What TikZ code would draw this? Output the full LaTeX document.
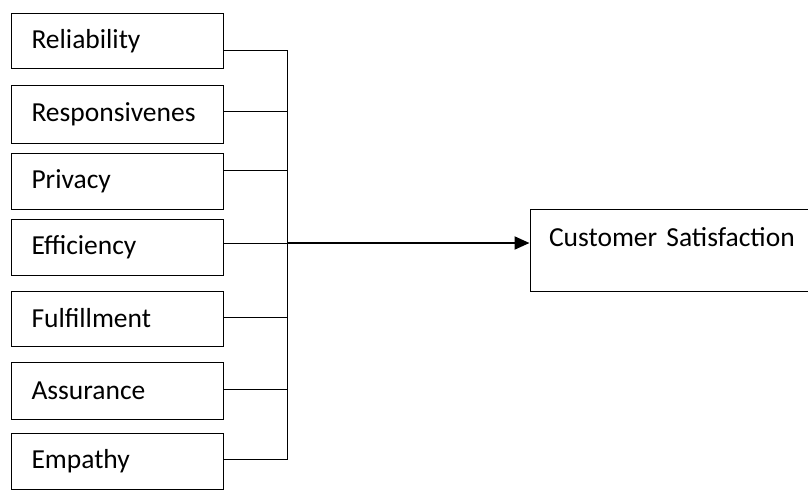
\documentclass[tikz,border=0pt]{standalone}
\usepackage{fontspec}
\setmainfont{Carlito}
\usetikzlibrary{arrows.meta}

\begin{document}
\begin{tikzpicture}[x=1pt,y=-1pt,
  factor/.style={rectangle,draw,line width=1pt,minimum width=210pt,text width=172pt,inner xsep=20pt,align=left,font=\fontsize{27.5}{32}\selectfont},
  link/.style={line width=1pt}]
\useasboundingbox (0,0) rectangle (808,491);

\node[factor,minimum height=55pt] (rel) at (117.5,41) {Reliability};
\node[factor,minimum height=58pt] (resp) at (117.5,114) {Responsivenes};
\node[factor,minimum height=56pt] (priv) at (117.5,181) {Privacy};
\node[factor,minimum height=56pt] (eff) at (117.5,247) {Efficiency};
\node[factor,minimum height=55pt] (ful) at (117.5,318.5) {Fulfillment};
\node[factor,minimum height=57pt] (ass) at (117.5,390.5) {Assurance};
\node[factor,minimum height=56pt] (emp) at (117.5,461) {Empathy};
\node[rectangle,draw,line width=1pt,text width=240pt,inner xsep=19pt,inner ysep=15pt,text height=22pt,text depth=30pt,align=left,font=\fontsize{27.5}{32}\selectfont] (cs) at (669,250) {\mbox{Customer Satisfaction}};

\coordinate (bus) at (287,243);

\draw[link] ([yshift=-9pt]rel.east) -| (bus);
\draw[link] ([yshift=3pt]resp.east) -| (bus);
\draw[link] ([yshift=11pt]priv.east) -| (bus);
\draw[link] ([yshift=4pt]eff.east) -| (bus);
\draw[link] ([yshift=1.5pt]ful.east) -| (bus);
\draw[link] ([yshift=1.5pt]ass.east) -| (bus);
\draw[link] ([yshift=2pt]emp.east) -| (bus);
\draw[line width=2pt,-{Triangle[length=15pt,width=13pt]}] (bus) -- (bus -| cs.west);
\end{tikzpicture}
\end{document}
